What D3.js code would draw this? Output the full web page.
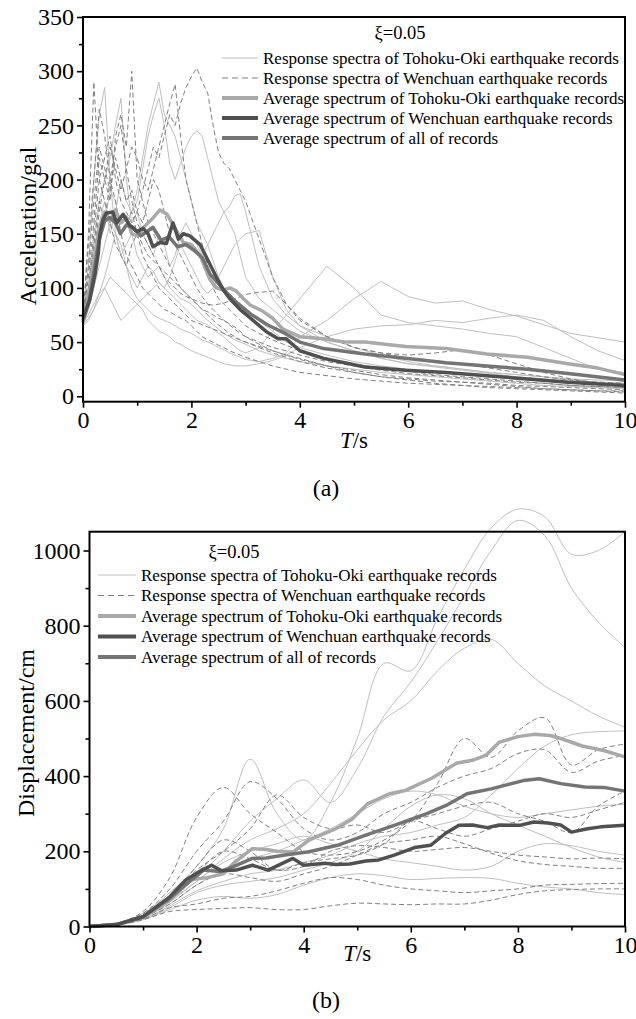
<!DOCTYPE html>
<html>
<head>
<meta charset="utf-8">
<script src="https://cdn.jsdelivr.net/npm/d3@7"></script>
<style>
  body { margin: 0; background: #fff; }
</style>
</head>
<body>
<svg id="fig" width="636" height="1019"></svg>
<script>
// ---------- period grids (s) ----------
const periodsAcc = [0, 0.1, 0.2, 0.3, 0.4, 0.5, 0.6, 0.7, 0.8, 0.9,
  1.0, 1.1, 1.2, 1.3, 1.4, 1.5, 1.6, 1.7, 1.8, 1.9,
  2.0, 2.1, 2.2, 2.3, 2.4, 2.5, 2.6, 2.7, 2.8, 2.9,
  3.0, 3.25, 3.5, 3.75, 4.0, 4.5, 5.0, 5.5, 6.0, 6.5,
  7.0, 7.5, 8.0, 8.5, 9.0, 9.5, 10];
const periodsDisp = [0, 0.5, 1, 1.5, 2, 2.5, 3, 3.5, 4, 4.5, 5, 5.5, 6, 6.5, 7, 7.5, 8, 8.5, 9, 9.5, 10];

// ---------- (a) acceleration response spectra, gal ----------
const accTohoku = [
  [70, 95, 130, 160, 180, 150, 170, 200, 180, 170, 190, 220, 250, 270, 290, 260, 250, 240, 220, 200, 180, 160, 150, 140, 125, 110, 100, 95, 90, 85, 80, 70, 60, 50, 45, 38, 32, 28, 25, 22, 20, 18, 16, 14, 12, 11, 10],
  [68, 90, 120, 140, 160, 190, 180, 150, 160, 170, 180, 210, 240, 260, 275, 250, 215, 200, 215, 230, 240, 245, 240, 220, 200, 180, 170, 160, 150, 130, 110, 90, 80, 70, 60, 50, 42, 35, 30, 28, 25, 22, 20, 18, 16, 15, 14],
  [72, 120, 200, 260, 285, 200, 150, 130, 140, 150, 130, 120, 110, 115, 120, 110, 100, 95, 90, 88, 85, 80, 75, 70, 66, 62, 58, 55, 52, 50, 48, 42, 38, 35, 32, 28, 25, 22, 20, 18, 16, 14, 12, 10, 9, 8, 7],
  [70, 100, 140, 180, 200, 220, 250, 275, 200, 160, 170, 150, 140, 130, 150, 140, 120, 130, 150, 160, 150, 140, 130, 140, 150, 160, 170, 175, 185, 187, 170, 120, 90, 75, 65, 55, 45, 38, 32, 28, 25, 22, 20, 18, 15, 13, 12],
  [65, 80, 100, 120, 140, 160, 150, 130, 120, 110, 100, 110, 120, 115, 105, 100, 110, 125, 140, 130, 120, 110, 100, 95, 100, 110, 120, 130, 140, 145, 150, 153, 110, 80, 65, 50, 42, 35, 30, 27, 24, 21, 18, 16, 14, 13, 12],
  [65, 70, 80, 95, 100, 90, 80, 70, 75, 80, 85, 90, 95, 100, 105, 100, 95, 90, 85, 80, 75, 70, 68, 66, 62, 58, 55, 50, 46, 42, 40, 45, 60, 75, 90, 120, 100, 75, 68, 65, 62, 58, 55, 45, 35, 25, 22],
  [68, 75, 85, 95, 110, 130, 150, 140, 120, 100, 90, 85, 80, 75, 72, 70, 68, 65, 62, 60, 58, 55, 52, 50, 48, 45, 43, 40, 38, 36, 34, 32, 35, 40, 55, 70, 90, 106, 92, 86, 88, 80, 74, 66, 58, 54, 50],
  [66, 72, 80, 90, 100, 110, 105, 100, 95, 90, 85, 80, 70, 65, 60, 58, 55, 50, 48, 45, 42, 40, 38, 36, 34, 32, 30, 29, 28, 28, 28, 30, 33, 38, 45, 55, 62, 65, 66, 70, 68, 72, 75, 70, 55, 42, 33]
];
const accWenchuan = [
  [70, 150, 290, 200, 180, 160, 170, 150, 130, 120, 110, 100, 95, 90, 85, 80, 78, 75, 72, 70, 65, 60, 55, 52, 50, 47, 45, 42, 40, 38, 36, 32, 28, 25, 22, 19, 16, 14, 12, 11, 10, 9, 8, 7, 6, 5, 5],
  [72, 110, 160, 220, 200, 180, 240, 260, 230, 300, 200, 180, 160, 150, 140, 130, 120, 110, 100, 95, 90, 85, 80, 75, 70, 66, 62, 58, 55, 52, 50, 45, 40, 36, 32, 26, 22, 18, 16, 14, 13, 12, 10, 9, 8, 7, 6],
  [68, 90, 130, 170, 200, 230, 210, 190, 210, 230, 220, 200, 190, 210, 230, 250, 270, 288, 240, 200, 180, 160, 140, 120, 100, 90, 85, 80, 75, 70, 65, 58, 52, 47, 42, 35, 30, 26, 23, 20, 18, 16, 14, 12, 10, 9, 8],
  [70, 100, 150, 200, 220, 240, 200, 180, 170, 160, 170, 190, 210, 230, 220, 240, 260, 250, 270, 285, 295, 303, 290, 280, 250, 225, 215, 210, 200, 190, 180, 145, 110, 85, 70, 55, 45, 40, 35, 32, 30, 26, 22, 18, 15, 13, 12],
  [70, 140, 200, 265, 240, 200, 180, 150, 160, 170, 150, 140, 130, 125, 120, 115, 110, 105, 100, 95, 90, 85, 80, 78, 75, 72, 70, 67, 64, 60, 55, 50, 45, 42, 38, 32, 28, 24, 21, 19, 17, 15, 13, 12, 10, 9, 8],
  [68, 100, 140, 180, 160, 200, 230, 250, 210, 180, 160, 150, 140, 130, 120, 110, 105, 100, 95, 92, 90, 88, 86, 85, 84, 85, 86, 88, 90, 92, 94, 96, 97, 85, 72, 55, 45, 40, 38, 40, 43, 38, 30, 22, 16, 12, 10],
  [66, 90, 120, 150, 170, 160, 140, 130, 120, 140, 150, 130, 120, 110, 100, 95, 90, 85, 80, 75, 70, 68, 66, 64, 62, 60, 58, 56, 54, 52, 50, 46, 42, 38, 35, 28, 24, 20, 17, 15, 13, 11, 9, 7, 6, 5, 4],
  [72, 120, 180, 230, 210, 190, 220, 200, 180, 190, 170, 160, 180, 200, 190, 170, 150, 140, 130, 120, 110, 100, 92, 85, 80, 75, 70, 66, 62, 58, 55, 48, 42, 38, 34, 28, 22, 18, 15, 12, 10, 8, 7, 6, 5, 4, 3]
];
const accAvgTohokuT = [0, 0.1, 0.2, 0.3, 0.4, 0.5, 0.6, 0.7, 0.8, 0.9, 1.0, 1.1, 1.2, 1.3, 1.42, 1.55, 1.7, 1.85, 2.0, 2.16, 2.34, 2.46, 2.59, 2.71, 2.83, 2.96, 3.09, 3.3, 3.5, 3.69, 4.0, 4.44, 4.82, 5.2, 5.57, 5.95, 6.7, 7.45, 8.2, 8.95, 9.5, 10];
const accAvgTohoku  = [68, 90, 125, 155, 170, 162, 172, 160, 165, 150, 148, 155, 160, 165, 172, 168, 155, 142, 140, 130, 108, 100, 98, 100, 97, 90, 84, 79, 72, 62, 55, 53, 50, 50, 48, 46, 44, 39, 36, 30, 26, 20];
const accAvgWenchuanT = [0, 0.12, 0.22, 0.28, 0.31, 0.37, 0.43, 0.55, 0.62, 0.74, 0.86, 0.99, 1.11, 1.2, 1.29, 1.42, 1.54, 1.66, 1.76, 1.85, 1.97, 2.16, 2.34, 2.46, 2.59, 2.71, 2.9, 3.09, 3.4, 3.6, 3.75, 4.0, 4.44, 5.2, 5.95, 6.7, 7.45, 8.2, 8.95, 10];
const accAvgWenchuan  = [72, 88, 112, 131, 149, 163, 169, 170, 160, 168, 158, 152, 155, 150, 138, 142, 141, 160, 145, 150, 148, 140, 122, 110, 98, 90, 80, 72, 59, 53, 53, 42, 35, 27, 24, 22, 19, 16, 13, 10];
const accAvgAllT = [0, 0.12, 0.22, 0.3, 0.4, 0.5, 0.6, 0.69, 0.8, 0.92, 1.07, 1.18, 1.29, 1.44, 1.59, 1.74, 1.9, 2.04, 2.2, 2.34, 2.5, 2.64, 2.8, 3.09, 3.4, 3.69, 4.0, 4.44, 5.2, 5.95, 6.7, 7.45, 8.2, 8.95, 10];
const accAvgAll  = [70, 90, 120, 145, 162, 165, 160, 150, 158, 156, 148, 152, 156, 144, 147, 138, 140, 135, 128, 113, 104, 96, 88, 76, 66, 59, 50, 44, 39, 35, 31, 28, 25, 21, 15];

// ---------- (b) displacement response spectra, cm ----------
const dispTohoku = [
  [0, 8, 35, 90, 160, 260, 445, 300, 230, 330, 500, 700, 680, 820, 950, 1060, 1110, 1090, 990, 1000, 1050],
  [0, 6, 30, 80, 130, 200, 280, 340, 390, 330, 420, 560, 650, 760, 880, 1000, 1080, 1040, 900, 810, 742],
  [0, 5, 25, 70, 120, 180, 230, 260, 300, 380, 470, 550, 600, 680, 740, 764, 700, 640, 600, 560, 530],
  [0, 5, 20, 55, 95, 120, 140, 150, 170, 190, 220, 240, 250, 270, 290, 350, 420, 480, 510, 518, 520],
  [0, 6, 25, 60, 110, 150, 180, 200, 230, 260, 300, 340, 360, 350, 320, 300, 290, 300, 310, 320, 325],
  [0, 5, 22, 65, 120, 170, 200, 220, 240, 220, 200, 180, 170, 160, 150, 160, 200, 220, 215, 200, 190],
  [0, 4, 20, 50, 90, 110, 120, 130, 150, 170, 200, 260, 320, 350, 340, 300, 270, 240, 210, 185, 170],
  [0, 4, 18, 45, 70, 80, 75, 85, 110, 130, 140, 135, 125, 128, 130, 128, 115, 105, 100, 90, 85]
];
const dispWenchuan = [
  [0, 8, 40, 130, 290, 370, 300, 250, 200, 190, 200, 230, 280, 380, 500, 450, 520, 555, 430, 470, 485],
  [0, 6, 35, 100, 200, 280, 385, 340, 260, 230, 250, 300, 330, 370, 400, 420, 460, 470, 410, 440, 455],
  [0, 6, 30, 80, 150, 200, 260, 350, 290, 260, 270, 250, 280, 300, 320, 330, 300, 280, 250, 320, 360],
  [0, 5, 28, 75, 160, 230, 200, 150, 170, 180, 190, 220, 280, 260, 240, 260, 280, 300, 290, 310, 330],
  [0, 5, 25, 70, 140, 200, 180, 150, 160, 200, 215, 210, 200, 205, 210, 200, 190, 185, 180, 182, 180],
  [0, 5, 25, 60, 110, 140, 130, 120, 140, 160, 190, 220, 230, 240, 220, 195, 175, 165, 160, 155, 155],
  [0, 4, 20, 50, 60, 75, 80, 95, 115, 130, 125, 110, 100, 95, 90, 95, 100, 110, 112, 114, 115],
  [0, 4, 18, 40, 45, 48, 50, 45, 45, 55, 62, 60, 58, 60, 60, 70, 85, 95, 98, 100, 100]
];
const dispAvgTohokuT = [0, 0.5, 1, 1.5, 1.9, 2.2, 2.5, 2.7, 3.04, 3.3, 3.5, 3.8, 4.1, 4.6, 4.9, 5.2, 5.6, 5.9, 6.4, 6.85, 7.15, 7.4, 7.65, 8.0, 8.3, 8.6, 8.8, 9.2, 9.6, 10];
const dispAvgTohoku  = [0, 5, 25, 70, 125, 130, 140, 170, 207, 205, 200, 198, 230, 260, 285, 327, 353, 362, 395, 434, 442, 455, 490, 505, 511, 508, 500, 480, 468, 451];
const dispAvgWenchuanT = [0, 0.5, 1, 1.5, 1.8, 2.1, 2.28, 2.47, 2.74, 3.04, 3.34, 3.6, 3.8, 4.0, 4.4, 4.6, 4.86, 5.16, 5.4, 5.69, 6.07, 6.37, 6.65, 6.9, 7.15, 7.43, 7.65, 8.03, 8.3, 8.56, 8.8, 9.0, 9.3, 9.55, 10];
const dispAvgWenchuan  = [0, 5, 26, 79, 124, 150, 163, 148, 150, 163, 150, 168, 181, 163, 168, 165, 166, 174, 177, 190, 210, 216, 248, 269, 270, 263, 270, 269, 278, 275, 270, 251, 260, 265, 269];
const dispAvgAllT = [0, 0.5, 1, 1.5, 1.75, 2.13, 2.44, 2.7, 3.04, 3.3, 3.65, 4.1, 4.63, 5.16, 5.69, 6.3, 6.66, 7.05, 7.5, 8.1, 8.4, 8.8, 9.25, 9.6, 10];
const dispAvgAll  = [0, 5, 26, 75, 106, 150, 146, 160, 181, 182, 190, 199, 216, 243, 269, 300, 322, 353, 366, 388, 393, 380, 371, 370, 360];

// ---------- axis ticks and labels ----------
const periodTicks = [0, 2, 4, 6, 8, 10];
const periodMinor = [1, 3, 5, 7, 9];
const accTicks = [0, 50, 100, 150, 200, 250, 300, 350];
const accMinor = [25, 75, 125, 175, 225, 275, 325];
const dispTicks = [0, 200, 400, 600, 800, 1000];
const dispMinor = [100, 300, 500, 700, 900];
const legendLabels = [
  "Response spectra of Tohoku-Oki earthquake records",
  "Response spectra of Wenchuan earthquake records",
  "Average spectrum of Tohoku-Oki earthquake records",
  "Average spectrum of Wenchuan earthquake records",
  "Average spectrum of all of records"
];

// ---------- styles ----------
const FONT = '"Liberation Serif", "Times New Roman", Times, serif';
const styles = [
  { color: "#bfbfbf", width: 1, dash: null },      // Tohoku records
  { color: "#808080", width: 1, dash: "5,3" },     // Wenchuan records
  { color: "#a9a9a9", width: 3.5, dash: null },    // Tohoku average
  { color: "#505050", width: 3.5, dash: null },    // Wenchuan average
  { color: "#747474", width: 3.5, dash: null }     // overall average
];

const svg = d3.select("#fig");

function label(sel, size) {
  return sel.style("font-family", FONT).style("font-size", size + "px").style("fill", "#000");
}

function drawPanel(o) {
  const x = d3.scaleLinear().domain([0, 10]).range([o.left, o.right]);
  const y = d3.scaleLinear().domain(o.yDomain).range([o.bottom, o.top]);
  const g = svg.append("g");

  const pairs = (ts, vs) => ts.map((t, i) => [t, vs[i]]);
  const addLine = (data, st, crv) => {
    const gen = d3.line().x(d => x(d[0])).y(d => y(d[1])).curve(crv);
    g.append("path")
      .datum(data)
      .attr("d", gen)
      .attr("fill", "none")
      .attr("stroke", st.color)
      .attr("stroke-width", st.width)
      .attr("stroke-dasharray", st.dash)
      .attr("stroke-linejoin", "round");
  };

  o.records[0].forEach(v => addLine(pairs(o.grid, v), styles[0], o.curve));
  o.records[1].forEach(v => addLine(pairs(o.grid, v), styles[1], o.curve));
  addLine(pairs(o.avg[0][0], o.avg[0][1]), styles[2], d3.curveLinear);
  addLine(pairs(o.avg[2][0], o.avg[2][1]), styles[4], d3.curveLinear);
  addLine(pairs(o.avg[1][0], o.avg[1][1]), styles[3], d3.curveLinear);

  // frame
  g.append("rect")
    .attr("x", o.left).attr("y", o.top)
    .attr("width", o.right - o.left).attr("height", o.bottom - o.top)
    .attr("fill", "none").attr("stroke", "#000").attr("stroke-width", 2);

  // axes
  const xMaj = g.append("g").attr("transform", `translate(0,${o.bottom})`)
    .call(d3.axisBottom(x).tickValues(periodTicks).tickSize(6).tickPadding(3).tickFormat(d3.format("d")));
  const xMin = g.append("g").attr("transform", `translate(0,${o.bottom})`)
    .call(d3.axisBottom(x).tickValues(periodMinor).tickSize(4).tickFormat(""));
  const yMaj = g.append("g").attr("transform", `translate(${o.left},0)`)
    .call(d3.axisLeft(y).tickValues(o.yTicks).tickSize(6).tickPadding(3).tickFormat(d3.format("d")));
  const yMin = g.append("g").attr("transform", `translate(${o.left},0)`)
    .call(d3.axisLeft(y).tickValues(o.yMinor).tickSize(4).tickFormat(""));
  [xMaj, xMin, yMaj, yMin].forEach(a => {
    a.select(".domain").remove();
    a.selectAll("line").attr("stroke", "#000").attr("stroke-width", 1.6);
    label(a.selectAll("text"), 24);
  });

  // axis titles
  const xt = label(g.append("text"), 23)
    .attr("x", (o.left + o.right) / 2).attr("y", o.xTitleY)
    .attr("text-anchor", "middle");
  xt.append("tspan").style("font-style", "italic").text("T");
  xt.append("tspan").text("/s");

  label(g.append("text"), 24)
    .attr("transform", `translate(${o.yTitleX},${o.yTitleY}) rotate(-90)`)
    .attr("text-anchor", "middle")
    .text(o.yTitle);

  label(g.append("text"), 24)
    .attr("x", o.tagX).attr("y", o.tagY)
    .attr("text-anchor", "middle")
    .text(o.tag);

  // legend
  const lg = g.append("g");
  label(lg.append("text"), 18.5)
    .attr("x", o.legend.xiX).attr("y", o.legend.xiY)
    .attr("text-anchor", "middle")
    .text("ξ=0.05");
  legendLabels.forEach((lab, i) => {
    const yy = o.legend.y0 + i * o.legend.dy;
    const st = styles[i];
    lg.append("line")
      .attr("x1", o.legend.x0).attr("x2", o.legend.x1)
      .attr("y1", yy).attr("y2", yy)
      .attr("stroke", st.color)
      .attr("stroke-width", i < 2 ? 1.2 : 4)
      .attr("stroke-dasharray", st.dash ? "6,4" : null);
    label(lg.append("text"), 17)
      .attr("x", o.legend.x1 + 5).attr("y", yy)
      .attr("dy", "0.33em")
      .text(lab);
  });
}

drawPanel({
  left: 83, right: 625, top: 17, bottom: 401.7,
  yDomain: [-5, 350], yTicks: accTicks, yMinor: accMinor,
  grid: periodsAcc, records: [accTohoku, accWenchuan],
  avg: [[accAvgTohokuT, accAvgTohoku], [accAvgWenchuanT, accAvgWenchuan], [accAvgAllT, accAvgAll]],
  curve: d3.curveLinear,
  xTitleY: 448, yTitle: "Acceleration/gal", yTitleX: 36, yTitleY: 226,
  tag: "(a)", tagX: 326, tagY: 496,
  legend: { xiX: 400, xiY: 39, x0: 222, x1: 258, y0: 58, dy: 20 }
});

drawPanel({
  left: 89.5, right: 625, top: 531.7, bottom: 926.5,
  yDomain: [0, 1050], yTicks: dispTicks, yMinor: dispMinor,
  grid: periodsDisp, records: [dispTohoku, dispWenchuan],
  avg: [[dispAvgTohokuT, dispAvgTohoku], [dispAvgWenchuanT, dispAvgWenchuan], [dispAvgAllT, dispAvgAll]],
  curve: d3.curveCatmullRom.alpha(0.5),
  xTitleY: 961, yTitle: "Displacement/cm", yTitleX: 34, yTitleY: 733,
  tag: "(b)", tagX: 326, tagY: 1008,
  legend: { xiX: 234, xiY: 558, x0: 98, x1: 136, y0: 575, dy: 20.5 }
});
</script>
</body>
</html>
